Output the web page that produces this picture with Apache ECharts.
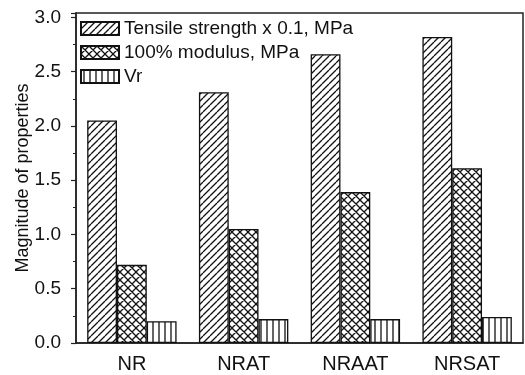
<!DOCTYPE html>
<html><head><meta charset="utf-8">
<script src="https://cdn.jsdelivr.net/npm/echarts@6/dist/echarts.min.js"></script>
<style>html,body{margin:0;padding:0;background:#fff}#c{width:525px;height:375px}</style>
</head><body><div id="c"></div>
<script>
const categories = ['NR', 'NRAT', 'NRAAT', 'NRSAT'];
const tensile = [2.05, 2.31, 2.66, 2.82];
const modulus = [0.72, 1.05, 1.39, 1.61];
const vr = [0.20, 0.22, 0.22, 0.24];
const seriesNames = ['Tensile strength x 0.1, MPa', '100% modulus, MPa', 'Vr'];

function makePattern(kind) {
  const s = kind === 'vert' ? 6 : (kind === 'cross' ? 8 : 7);
  const c = document.createElement('canvas');
  c.width = s; c.height = s;
  const g = c.getContext('2d');
  g.fillStyle = '#fff'; g.fillRect(0, 0, s, s);
  g.strokeStyle = '#111'; g.lineWidth = 1.3;
  g.beginPath();
  if (kind === 'diag' || kind === 'cross') {
    for (let x = -s; x <= s; x += s) { g.moveTo(x, s); g.lineTo(x + s, 0); }
  }
  if (kind === 'cross') {
    for (let x = -s; x <= s; x += s) { g.moveTo(x, 0); g.lineTo(x + s, s); }
  }
  if (kind === 'vert') { g.moveTo(s / 2, 0); g.lineTo(s / 2, s); }
  g.stroke();
  return { image: c, repeat: 'repeat' };
}

const font = '"Liberation Sans", Arial, sans-serif';
const chart = echarts.init(document.getElementById('c'));
const kinds = ['diag', 'cross', 'vert'];
const datas = [tensile, modulus, vr];
chart.setOption({
  animation: false,
  backgroundColor: '#fff',
  grid: { left: 76, right: 2, top: 13, bottom: 32, show: true, borderColor: '#222', borderWidth: 1.5, backgroundColor: 'transparent' },
  legend: {
    orient: 'vertical', left: 80, top: 19, itemGap: 5, itemWidth: 38, itemHeight: 13, padding: 0,
    icon: 'rect',
    textStyle: { fontFamily: font, fontSize: 19, color: '#111' },
    data: seriesNames
  },
  xAxis: {
    type: 'category', data: categories,
    axisLine: { lineStyle: { color: '#222', width: 1.5 } },
    axisTick: { alignWithLabel: true, length: 5, lineStyle: { color: '#222', width: 1.2 } },
    axisLabel: { fontFamily: font, fontSize: 20, color: '#111', margin: 11 }
  },
  yAxis: {
    type: 'value', min: 0, max: 3.04, interval: 0.5,
    name: 'Magnitude of properties', nameLocation: 'middle', nameGap: 44, nameMoveOverlap: false,
    nameTextStyle: { fontFamily: font, fontSize: 18, color: '#111' },
    splitLine: { show: false },
    axisLine: { show: true, lineStyle: { color: '#222', width: 1.5 } },
    axisTick: { show: true, length: 5, lineStyle: { color: '#222', width: 1.2 } },
    minorTick: { show: true, splitNumber: 2, length: 3, lineStyle: { color: '#222', width: 1 } },
    axisLabel: {
      fontFamily: font, fontSize: 19, color: '#111', margin: 15,
      formatter: v => Math.abs(v * 2 - Math.round(v * 2)) < 1e-6 ? v.toFixed(1) : ''
    }
  },
  series: seriesNames.map((n, i) => ({
    name: n, type: 'bar', data: datas[i],
    barGap: '0%', barCategoryGap: '20%',
    itemStyle: { color: makePattern(kinds[i]), borderColor: '#111', borderWidth: 1.3 }
  }))
});
</script></body></html>
